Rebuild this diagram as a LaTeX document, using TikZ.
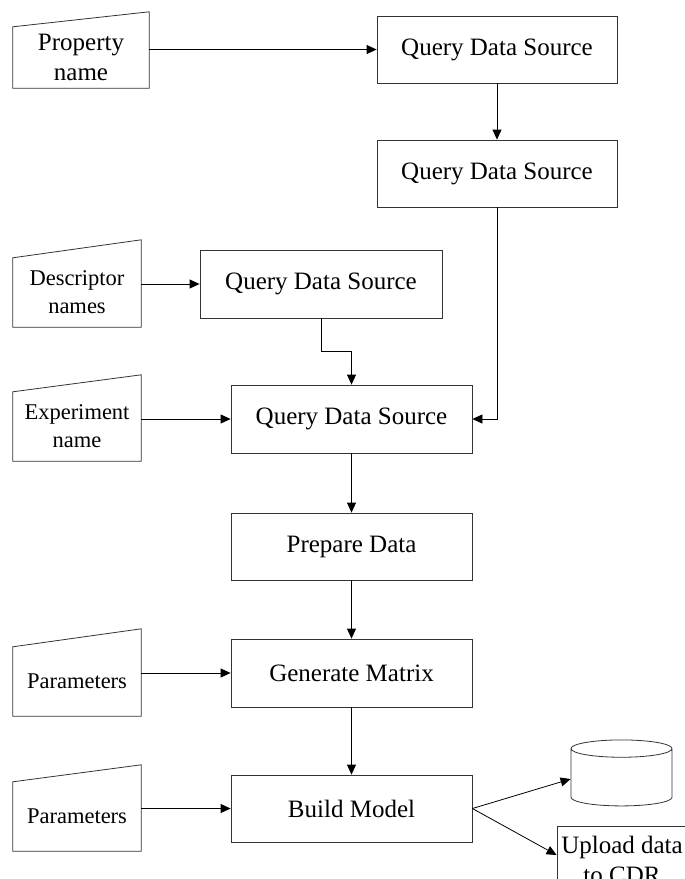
\documentclass[tikz,border=0pt]{standalone}
\usepackage{fontspec}
\setmainfont{Liberation Serif}
\usetikzlibrary{arrows.meta,shapes.geometric}
\newcommand{\procfont}{\fontsize{25}{30}\selectfont}
\newcommand{\infont}{\fontsize{22.5}{28}\selectfont}

\begin{document}
\begin{tikzpicture}[x=1pt,y=-1pt,
  proc/.style={draw=black!80, line width=0.8pt, minimum width=241pt, minimum height=68pt, inner sep=0pt, font=\procfont},
  manual/.style={minimum width=128pt, minimum height=69pt, inner sep=0pt, align=center, font=\infont},
  flow/.style={draw=black, line width=0.8pt, -{Triangle[length=10pt,width=9pt]}}]
  \useasboundingbox (0,0) rectangle (685,879);
  \clip (0,0) rectangle (685,879);
  % inputs
  \node[manual, minimum width=136pt, minimum height=61pt, font=\procfont] (prop) at (81,57.5) {Property\\name};
  \node[manual] (desc) at (77,292.5) {Descriptor\\names};
  \node[manual] (expt) at (77,426.5) {Experiment\\name};
  \node[manual] (parA) at (77,681.5) {Parameters};
  \node[manual] (parB) at (77,816.5) {Parameters};
  \foreach \n/\s in {prop/15,desc/18,expt/17,parA/18,parB/17}
    \draw[black!80, line width=0.8pt] (\n.south west) -- (\n.north west) -- ([yshift=\s]\n.north east) -- (\n.south east) -- cycle;
  % process boxes
  \node[proc, minimum width=240pt, minimum height=67pt] (qds1) at (497,49.5) {Query Data Source};
  \node[proc, minimum width=240pt, minimum height=67pt] (qds2) at (497,173.5) {Query Data Source};
  \node[proc, minimum width=242pt] (qds3) at (321,284) {Query Data Source};
  \node[proc] (qds4) at (351.5,419) {Query Data Source};
  \node[proc, minimum height=67pt] (prep) at (351.5,546.5) {Prepare Data};
  \node[proc] (genm) at (351.5,673) {Generate Matrix};
  \node[proc, minimum height=67pt] (bmod) at (351.5,808.5) {Build Model};
  \node[cylinder, shape border rotate=90, draw=black!80, line width=0.8pt, minimum width=101pt, minimum height=66pt, aspect=2.6] (store) at (621.5,779) {};
  \node[proc, minimum width=130pt, align=center] (upld) at (622,860) {Upload data\\to CDR};
  % connectors
  \draw[flow] (prop.east |- qds1.west) -- (qds1.west);
  \draw[flow] (qds1) -- (qds2);
  \draw[flow] (desc.east |- qds3.west) -- (qds3.west);
  \draw[flow] (qds3.south) -- ++(0,33) -| (qds4.north);
  \draw[flow] (qds2.south) |- (qds4.east);
  \draw[flow] (expt.east |- qds4.west) -- (qds4.west);
  \draw[flow] (qds4) -- (prep);
  \draw[flow] (prep) -- (genm);
  \draw[flow] (parA.east |- genm.west) -- (genm.west);
  \draw[flow] (genm) -- (bmod);
  \draw[flow] (parB.east |- bmod.west) -- (bmod.west);
  \draw[flow] (bmod.east) -- (store.west);
  \draw[flow] (bmod.east) -- ([yshift=5]upld.west);
\end{tikzpicture}
\end{document}
